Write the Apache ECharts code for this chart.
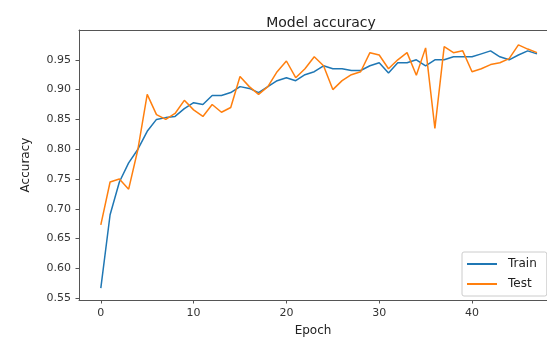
<!DOCTYPE html>
<html><head><meta charset="utf-8">
<script src="https://cdn.jsdelivr.net/npm/echarts@6/dist/echarts.min.js"></script>
<style>html,body{margin:0;padding:0;background:#fff}#c{width:547px;height:338px}</style>
</head><body><div id="c"></div>
<script>
const epochs = Array.from({length: 48}, (_, i) => i);
const trainAcc = [0.567,0.69,0.745,0.777,0.80,0.83,0.85,0.853,0.855,0.868,0.878,0.875,0.89,0.89,0.895,0.905,0.902,0.895,0.905,0.915,0.92,0.915,0.925,0.93,0.94,0.935,0.935,0.932,0.932,0.94,0.945,0.928,0.945,0.945,0.95,0.94,0.95,0.95,0.955,0.955,0.955,0.96,0.965,0.955,0.95,0.958,0.965,0.96];
const testAcc = [0.673,0.745,0.75,0.733,0.80,0.892,0.858,0.85,0.86,0.882,0.866,0.855,0.875,0.862,0.87,0.922,0.905,0.892,0.905,0.93,0.948,0.92,0.935,0.955,0.94,0.90,0.915,0.925,0.93,0.962,0.958,0.935,0.95,0.962,0.924,0.97,0.835,0.972,0.962,0.965,0.93,0.935,0.942,0.945,0.952,0.975,0.968,0.962];
const yTicks = [0.55,0.60,0.65,0.70,0.75,0.80,0.85,0.90,0.95];
const xTicks = [0,10,20,30,40];
const seriesNames = ['Train','Test'];

const chart = echarts.init(document.getElementById('c'));
const font = 'DejaVu Sans';
const axisColor = '#555';
chart.setOption({
  animation: false,
  textStyle: {fontFamily: font},
  title: {text: 'Model accuracy', left: 316, top: 11, textAlign: 'center',
    textStyle: {fontFamily: font, fontSize: 14, fontWeight: 'normal', color: '#222'}},
  grid: {left: 79, top: 30, right: 0, bottom: 38, show: false, outerBoundsMode: 'none', containLabel: false},
  legend: {
    data: seriesNames, orient: 'vertical', left: 462, top: 252,
    itemWidth: 30, itemHeight: 2, itemGap: 8, padding: [6, 10, 6, 4],
    borderColor: '#ccc', borderWidth: 1, borderRadius: 2, backgroundColor: 'rgba(255,255,255,0.8)',
    textStyle: {fontFamily: font, fontSize: 12, color: '#222', padding: [0, 0, 0, 6]}
  },
  xAxis: [{
    type: 'value', min: -2.35, max: 48.08,
    name: 'Epoch', nameLocation: 'middle', nameGap: 25,
    nameTextStyle: {fontFamily: font, fontSize: 12, color: '#222'},
    splitLine: {show: false},
    axisLine: {show: true, onZero: false, lineStyle: {color: axisColor}},
    axisTick: {show: true, inside: false, length: 3.5, customValues: xTicks, lineStyle: {color: axisColor}},
    axisLabel: {customValues: xTicks, fontSize: 11, color: '#333', margin: 8}
  }, {
    type: 'value', position: 'top', min: -2.35, max: 48.08,
    splitLine: {show: false}, axisTick: {show: false}, axisLabel: {show: false},
    axisLine: {show: true, onZero: false, lineStyle: {color: axisColor}}
  }],
  yAxis: {
    type: 'value', min: 0.547, max: 1.0,
    name: 'Accuracy', nameLocation: 'middle', nameGap: 47, nameRotate: 90,
    nameTextStyle: {fontFamily: font, fontSize: 12, color: '#222'},
    splitLine: {show: false},
    axisLine: {show: true, onZero: false, lineStyle: {color: axisColor}},
    axisTick: {show: true, inside: false, length: 3.5, customValues: yTicks, lineStyle: {color: axisColor}},
    axisLabel: {customValues: yTicks, fontSize: 11, color: '#333', margin: 8, formatter: v => v.toFixed(2)}
  },
  series: [
    {name: seriesNames[0], type: 'line', symbol: 'none', data: epochs.map((e, i) => [e, trainAcc[i]]),
      lineStyle: {color: '#1f77b4', width: 1.5}, itemStyle: {color: '#1f77b4'}},
    {name: seriesNames[1], type: 'line', symbol: 'none', data: epochs.map((e, i) => [e, testAcc[i]]),
      lineStyle: {color: '#ff7f0e', width: 1.5}, itemStyle: {color: '#ff7f0e'}}
  ]
});
</script></body></html>
